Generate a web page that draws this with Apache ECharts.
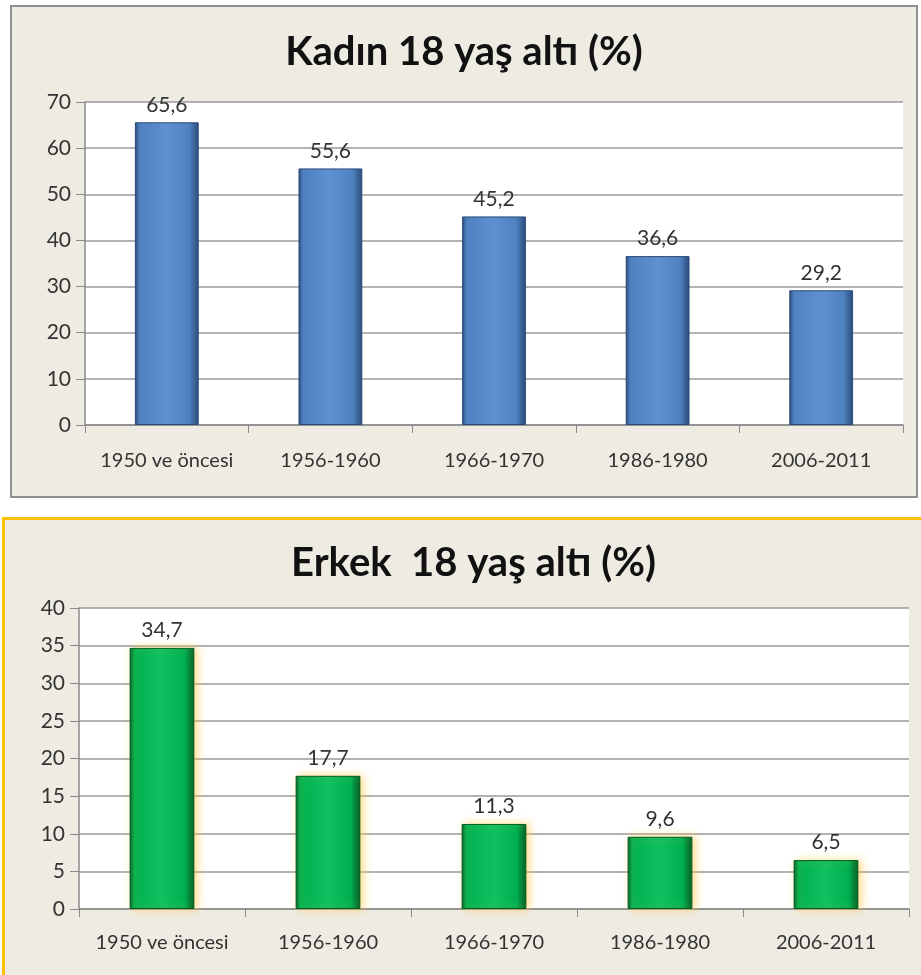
<!DOCTYPE html>
<html>
<head>
<meta charset="utf-8">
<script src="https://cdn.jsdelivr.net/npm/echarts@6/dist/echarts.min.js"></script>
<style>
html, body { margin: 0; padding: 0; background: #fff; width: 921px; height: 975px; overflow: hidden; position: relative; }
.panel { position: absolute; box-sizing: border-box; background: #eeebe2; }
#top { left: 10px; top: 5px; width: 908px; height: 493px; border: 2px solid #8f8f8f; }
#bot { left: 2px; top: 517px; width: 940px; height: 480px; border: 3px solid #ffc000; border-right: none; border-bottom: none; }
</style>
</head>
<body>
<div id="top" class="panel"></div>
<div id="bot" class="panel"></div>
<script>
var categories = ["1950 ve öncesi", "1956-1960", "1966-1970", "1986-1980", "2006-2011"];
var kadinValues = [65.6, 55.6, 45.2, 36.6, 29.2];
var erkekValues = [34.7, 17.7, 11.3, 9.6, 6.5];
var kadinTitle = "Kadın 18 yaş altı (%)";
var erkekTitle = "Erkek  18 yaş altı (%)";

var font = "Lato, 'Open Sans', sans-serif";

function barGradient(dark, mid, light) {
    return new echarts.graphic.LinearGradient(0, 0, 1, 0, [
        { offset: 0, color: dark },
        { offset: 0.07, color: mid },
        { offset: 0.5, color: light },
        { offset: 0.85, color: mid },
        { offset: 1, color: dark }
    ]);
}

function makeOption(title, values, max, interval, grid, color, glow) {
    return {
        animation: false,
        backgroundColor: "transparent",
        title: {
            text: title,
            left: "center",
            top: grid.titleTop,
            textStyle: { fontFamily: font, fontWeight: "bold", fontSize: 40, color: "#111" }
        },
        grid: { left: grid.left, right: grid.right, top: grid.top, bottom: grid.bottom, show: true, backgroundColor: "#fff", borderWidth: 0 },
        xAxis: {
            type: "category",
            data: categories,
            axisLine: { lineStyle: { color: "#8a8a8a", width: 1.5 } },
            axisTick: { show: true, length: 8, lineStyle: { color: "#8a8a8a" } },
            axisLabel: { interval: 0, hideOverlap: false, fontFamily: font, fontSize: 20, color: "#333", margin: grid.labelMargin }
        },
        yAxis: {
            type: "value",
            min: 0,
            max: max,
            interval: interval,
            axisLine: { show: true, lineStyle: { color: "#8a8a8a", width: 1.5 } },
            axisTick: { show: true, length: 9, lineStyle: { color: "#8a8a8a" } },
            axisLabel: { fontFamily: font, fontSize: 21, color: "#333", margin: 14 },
            splitLine: { lineStyle: { color: "#9a9a9a", width: 1.5 } }
        },
        series: [{
            type: "bar",
            data: values,
            barWidth: "39%",
            itemStyle: {
                color: barGradient(color[0], color[1], color[2]),
                borderColor: color[0],
                borderWidth: 1,
                shadowColor: glow,
                shadowBlur: glow ? 8 : 0,
                shadowOffsetX: glow ? 3 : 0
            },
            label: {
                show: true,
                position: "top",
                distance: 7,
                fontFamily: font,
                fontSize: 21,
                color: "#333",
                formatter: function (p) { return String(p.value).replace(".", ","); }
            }
        }]
    };
}

var topChart = echarts.init(document.getElementById("top"));
topChart.setOption(makeOption(kadinTitle, kadinValues, 70, 10,
    { left: 73, right: 13, top: 95, bottom: 71, titleTop: 20, labelMargin: 26 },
    ["#2a4a78", "#4f81c0", "#5f90cf"], null));

var botChart = echarts.init(document.getElementById("bot"));
botChart.setOption(makeOption(erkekTitle, erkekValues, 40, 5,
    { left: 74, right: 33, top: 88, bottom: 88, titleTop: 18, labelMargin: 24 },
    ["#005a24", "#00b050", "#10c060"], "rgba(255,200,60,0.6)"));
</script>
</body>
</html>
